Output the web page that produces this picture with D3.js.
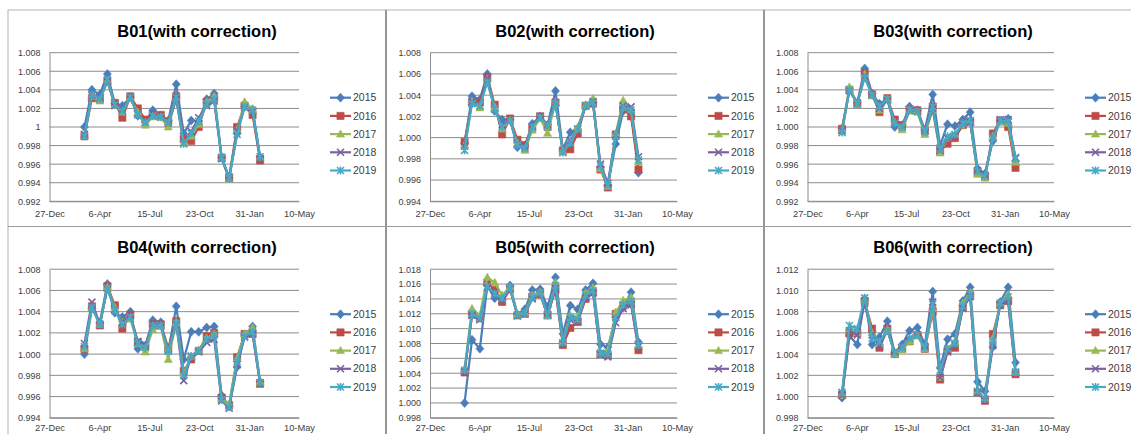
<!DOCTYPE html>
<html><head><meta charset="utf-8">
<script src="https://cdn.jsdelivr.net/npm/d3@7"></script>
<style>body{margin:0;background:#fff}svg{display:block}</style>
</head><body><svg id="c" width="1131" height="434"></svg>
<script>
// ---------- DATA ----------
const dates = ["2015-03-07","2015-03-22","2015-04-07","2015-04-22","2015-05-07","2015-05-22",
  "2015-06-07","2015-06-22","2015-07-07","2015-07-22","2015-08-07","2015-08-22",
  "2015-09-07","2015-09-22","2015-10-07","2015-10-22","2015-11-07","2015-11-22",
  "2015-12-07","2015-12-22","2016-01-07","2016-01-22","2016-02-07","2016-02-22"];
const years = ["2015","2016","2017","2018","2019"];
const xTickDates = ["2014-12-27","2015-04-06","2015-07-15","2015-10-23","2016-01-31","2016-05-10"];
const xTickLabels = ["27-Dec","6-Apr","15-Jul","23-Oct","31-Jan","10-May"];
const panelNames = ["B01","B02","B03","B04","B05","B06"];

const yTicksB01 = ["0.992","0.994","0.996","0.998","1","1.002","1.004","1.006","1.008"];
const yTicksB02 = ["0.994","0.996","0.998","1.000","1.002","1.004","1.006","1.008"];
const yTicksB03 = ["0.992","0.994","0.996","0.998","1.000","1.002","1.004","1.006","1.008"];
const yTicksB04 = ["0.994","0.996","0.998","1.000","1.002","1.004","1.006","1.008"];
const yTicksB05 = ["0.998","1.000","1.002","1.004","1.006","1.008","1.010","1.012","1.014","1.016","1.018"];
const yTicksB06 = ["0.998","1.000","1.002","1.004","1.006","1.008","1.010","1.012"];

// series order: 2015, 2016, 2017, 2018, 2019
const B01 = [
 [1.0000,1.0040,1.0035,1.0057,1.0025,1.0023,1.0032,1.0012,1.0006,1.0018,1.0012,1.0007,1.0046,0.9993,1.0007,1.0006,1.0030,1.0036,0.9967,0.9945,0.9993,1.0022,1.0019,0.9968],
 [0.9990,1.0031,1.0030,1.0049,1.0026,1.0010,1.0033,1.0020,1.0008,1.0013,1.0013,1.0006,1.0033,0.9987,0.9985,1.0000,1.0027,1.0030,0.9967,0.9946,1.0000,1.0023,1.0013,0.9964],
 [0.9991,1.0033,1.0028,1.0050,1.0023,1.0016,1.0031,1.0016,1.0002,1.0011,1.0010,1.0000,1.0031,0.9983,0.9990,1.0003,1.0027,1.0033,0.9966,0.9944,0.9997,1.0027,1.0019,0.9967],
 [0.9992,1.0034,1.0031,1.0050,1.0023,1.0018,1.0031,1.0014,1.0005,1.0012,1.0011,1.0004,1.0030,0.9982,0.9995,1.0010,1.0023,1.0028,0.9966,0.9945,0.9996,1.0021,1.0017,0.9966],
 [0.9990,1.0035,1.0030,1.0051,1.0024,1.0017,1.0032,1.0013,1.0005,1.0012,1.0011,1.0005,1.0032,0.9982,0.9993,1.0006,1.0025,1.0030,0.9967,0.9945,0.9992,1.0022,1.0018,0.9968]];
const B02 = [
 [0.9995,1.0039,1.0036,1.0060,1.0025,1.0017,1.0017,0.9991,0.9992,1.0013,1.0020,1.0012,1.0044,0.9989,1.0005,1.0008,1.0030,1.0033,0.9972,0.9955,0.9994,1.0025,1.0025,0.9967],
 [0.9996,1.0033,1.0033,1.0057,1.0031,1.0003,1.0018,0.9998,0.9993,1.0009,1.0020,1.0010,1.0033,0.9988,0.9989,1.0004,1.0030,1.0032,0.9970,0.9953,1.0003,1.0027,1.0020,0.9970],
 [0.9993,1.0034,1.0028,1.0055,1.0029,1.0008,1.0016,0.9995,0.9988,1.0007,1.0018,1.0004,1.0033,0.9987,0.9996,1.0010,1.0031,1.0037,0.9971,0.9954,1.0004,1.0035,1.0026,0.9977],
 [0.9992,1.0034,1.0030,1.0056,1.0027,1.0012,1.0016,0.9994,0.9991,1.0010,1.0020,1.0012,1.0033,0.9986,0.9997,1.0008,1.0030,1.0034,0.9975,0.9957,1.0002,1.0030,1.0029,0.9982],
 [0.9988,1.0032,1.0030,1.0052,1.0027,1.0010,1.0016,0.9993,0.9990,1.0010,1.0019,1.0011,1.0032,0.9986,0.9995,1.0008,1.0030,1.0033,0.9973,0.9955,1.0001,1.0028,1.0026,0.9979]];
const B03 = [
 [0.9998,1.0041,1.0026,1.0063,1.0036,1.0025,1.0030,1.0000,1.0002,1.0022,1.0018,0.9997,1.0035,0.9980,1.0003,1.0001,1.0008,1.0016,0.9955,0.9950,0.9985,1.0007,1.0009,0.9963],
 [0.9998,1.0040,1.0025,1.0058,1.0035,1.0016,1.0031,1.0008,1.0002,1.0019,1.0018,0.9996,1.0022,0.9974,0.9982,0.9988,1.0002,1.0006,0.9951,0.9946,0.9993,1.0007,1.0000,0.9956],
 [0.9997,1.0043,1.0025,1.0057,1.0034,1.0018,1.0030,1.0005,0.9997,1.0017,1.0016,0.9992,1.0018,0.9972,0.9988,0.9992,1.0002,1.0005,0.9949,0.9945,0.9990,1.0005,1.0004,0.9962],
 [0.9996,1.0039,1.0026,1.0055,1.0035,1.0020,1.0029,1.0005,1.0000,1.0018,1.0017,0.9995,1.0020,0.9975,0.9988,0.9990,1.0003,1.0005,0.9953,0.9948,0.9989,1.0008,1.0008,0.9967],
 [0.9994,1.0040,1.0025,1.0053,1.0034,1.0022,1.0030,1.0004,1.0000,1.0019,1.0017,0.9995,1.0022,0.9976,0.9990,0.9992,1.0004,1.0007,0.9952,0.9947,0.9988,1.0007,1.0006,0.9966]];
const B04 = [
 [1.0000,1.0043,1.0030,1.0066,1.0039,1.0035,1.0040,1.0005,1.0008,1.0032,1.0030,1.0002,1.0045,0.9995,1.0021,1.0021,1.0025,1.0026,0.9961,0.9951,0.9988,1.0018,1.0026,0.9974],
 [1.0005,1.0045,1.0027,1.0064,1.0046,1.0024,1.0037,1.0011,1.0007,1.0028,1.0028,1.0006,1.0031,0.9984,0.9995,1.0003,1.0017,1.0020,0.9959,0.9952,0.9997,1.0019,1.0019,0.9972],
 [1.0005,1.0044,1.0028,1.0063,1.0044,1.0030,1.0033,1.0010,1.0002,1.0023,1.0026,0.9995,1.0030,0.9982,0.9998,1.0004,1.0015,1.0019,0.9958,0.9953,0.9996,1.0019,1.0025,0.9974],
 [1.0010,1.0049,1.0028,1.0062,1.0042,1.0030,1.0036,1.0012,1.0009,1.0027,1.0027,1.0003,1.0028,0.9975,0.9998,1.0002,1.0011,1.0014,0.9956,0.9949,0.9990,1.0016,1.0019,0.9973],
 [1.0007,1.0044,1.0028,1.0062,1.0041,1.0028,1.0035,1.0010,1.0006,1.0027,1.0027,1.0003,1.0029,0.9980,0.9998,1.0003,1.0014,1.0018,0.9957,0.9950,0.9993,1.0017,1.0021,0.9973]];
const B05 = [
 [1.0000,1.0085,1.0073,1.0158,1.0141,1.0139,1.0158,1.0119,1.0126,1.0152,1.0153,1.0129,1.0169,1.0093,1.0131,1.0126,1.0152,1.0161,1.0079,1.0075,1.0115,1.0128,1.0149,1.0082],
 [1.0041,1.0119,1.0114,1.0162,1.0152,1.0136,1.0153,1.0118,1.0120,1.0143,1.0146,1.0118,1.0152,1.0078,1.0101,1.0109,1.0140,1.0149,1.0066,1.0064,1.0120,1.0131,1.0134,1.0071],
 [1.0046,1.0127,1.0118,1.0169,1.0162,1.0145,1.0156,1.0120,1.0121,1.0145,1.0149,1.0117,1.0162,1.0082,1.0118,1.0116,1.0148,1.0155,1.0068,1.0071,1.0122,1.0138,1.0142,1.0077],
 [1.0042,1.0118,1.0112,1.0155,1.0148,1.0138,1.0154,1.0117,1.0120,1.0140,1.0147,1.0119,1.0154,1.0080,1.0112,1.0110,1.0142,1.0148,1.0065,1.0062,1.0108,1.0127,1.0132,1.0076],
 [1.0044,1.0120,1.0114,1.0157,1.0147,1.0141,1.0155,1.0118,1.0121,1.0142,1.0148,1.0118,1.0158,1.0081,1.0115,1.0112,1.0145,1.0151,1.0067,1.0066,1.0115,1.0132,1.0137,1.0078]];
const B06 = [
 [0.9999,1.0057,1.0049,1.0092,1.0049,1.0056,1.0071,1.0041,1.0049,1.0062,1.0065,1.0049,1.0099,1.0027,1.0054,1.0059,1.0090,1.0103,1.0014,1.0005,1.0047,1.0089,1.0103,1.0032],
 [1.0002,1.0060,1.0060,1.0090,1.0064,1.0046,1.0064,1.0040,1.0045,1.0052,1.0058,1.0045,1.0080,1.0016,1.0043,1.0046,1.0084,1.0095,1.0004,0.9996,1.0059,1.0086,1.0090,1.0021],
 [1.0001,1.0063,1.0060,1.0091,1.0060,1.0050,1.0063,1.0040,1.0044,1.0052,1.0057,1.0045,1.0083,1.0018,1.0045,1.0052,1.0088,1.0098,1.0005,0.9998,1.0055,1.0088,1.0096,1.0023],
 [1.0001,1.0062,1.0058,1.0088,1.0058,1.0048,1.0062,1.0042,1.0046,1.0055,1.0058,1.0047,1.0089,1.0018,1.0042,1.0049,1.0083,1.0094,1.0004,0.9997,1.0048,1.0087,1.0090,1.0023],
 [1.0004,1.0067,1.0064,1.0093,1.0055,1.0052,1.0062,1.0041,1.0046,1.0055,1.0058,1.0046,1.0087,1.0025,1.0045,1.0050,1.0085,1.0096,1.0005,0.9998,1.0052,1.0088,1.0094,1.0023]];

// ---------- LAYOUT / STYLE ----------
const panelData = [B01,B02,B03,B04,B05,B06];
const panelTicks = [yTicksB01,yTicksB02,yTicksB03,yTicksB04,yTicksB05,yTicksB06];
const colors = ["#4A7EBB","#BE4B48","#98B954","#7D60A0","#46AAC5"];
const markers = ["diamond","square","triangle","x","star"];
const colX = [8,386,764], rowY = [10,226.5], panelW = 378, panelH = 216.5;
const plotL = [49.5,430,807.5], plotR = [299,677,1054];
const plotTop = 42.7, plotBot = 191.3;
const xPad = [9,6.5];
const font = "'Liberation Sans', Arial, sans-serif";

const parse = d3.utcParse("%Y-%m-%d");
const xDates = dates.map(parse);
const svg = d3.select("#c");
svg.append("rect").attr("width",1131).attr("height",434).attr("fill","#fff");

function markerPath(type){
  switch(type){
    case "diamond": return "M0,-4.5L4,0L0,4.5L-4,0Z";
    case "square": return "M-3.6,-3.6H3.6V3.6H-3.6Z";
    case "triangle": return "M0,-4.2L4,3L-4,3Z";
    case "x": return "M-3.5,-3.5L3.5,3.5M-3.5,3.5L3.5,-3.5";
    case "star": return "M-3.5,-3.5L3.5,3.5M-3.5,3.5L3.5,-3.5M0,-4L0,4";
  }
}
function drawMarker(g, type, color, x, y){
  const p = g.append("path").attr("d", markerPath(type)).attr("transform",`translate(${x},${y})`);
  if (type==="x"||type==="star") p.attr("fill","none").attr("stroke",color).attr("stroke-width",1.6);
  else p.attr("fill",color).attr("stroke",color).attr("stroke-width",0.6);
}

// panel borders
for (let r=0;r<2;r++) for (let c=0;c<3;c++){
  svg.append("rect").attr("x",colX[c]).attr("y",rowY[r]).attr("width",panelW).attr("height",panelH)
    .attr("fill","none").attr("stroke","#b4b4b4").attr("stroke-width",1);
}
svg.append("line").attr("x1",386).attr("x2",386).attr("y1",10).attr("y2",434).attr("stroke","#8a8a8a").attr("stroke-width",1.6);
svg.append("line").attr("x1",764).attr("x2",764).attr("y1",10).attr("y2",434).attr("stroke","#8a8a8a").attr("stroke-width",1.6);
svg.append("line").attr("x1",8).attr("x2",1131).attr("y1",226.5).attr("y2",226.5).attr("stroke","#9a9a9a").attr("stroke-width",1.2);

panelNames.forEach((name,pi)=>{
  const c = pi%3, r = Math.floor(pi/3);
  const px = colX[c], py = rowY[r];
  const ticks = panelTicks[pi];
  const tv = ticks.map(Number);
  const x = d3.scaleUtc().domain([parse(xTickDates[0]), parse(xTickDates[xTickDates.length-1])]).range([plotL[c], plotR[c]]);
  const y = d3.scaleLinear().domain([d3.min(tv), d3.max(tv)]).range([py+plotBot, py+plotTop]);
  const g = svg.append("g");

  // title
  g.append("text").attr("x",px+panelW/2).attr("y",py+26.5).attr("text-anchor","middle")
    .attr("font-family",font).attr("font-weight","bold").attr("font-size",16.5).attr("fill","#000")
    .text(name+"(with correction)");

  // gridlines
  g.selectAll(".grid").data(tv).enter().append("line")
    .attr("x1",plotL[c]).attr("x2",plotR[c]).attr("y1",d=>y(d)).attr("y2",d=>y(d))
    .attr("stroke","#8c8c8c").attr("stroke-width",1);
  // y axis
  const ya = d3.axisLeft(y).tickValues(tv).tickFormat((d,i)=>ticks[i]).tickSize(0).tickPadding(9);
  const yg = g.append("g").attr("transform",`translate(${plotL[c]},0)`).call(ya);
  yg.select(".domain").attr("stroke","#8c8c8c");
  yg.selectAll("text").attr("font-family",font).attr("font-size",9).attr("fill","#404040");
  // x axis
  const xa = d3.axisBottom(x).tickValues(xTickDates.map(parse)).tickFormat((d,i)=>xTickLabels[i]).tickSize(0).tickPadding(xPad[r]);
  const xg = g.append("g").attr("transform",`translate(0,${py+plotBot})`).call(xa);
  xg.select(".domain").attr("stroke","#8c8c8c");
  xg.selectAll("text").attr("font-family",font).attr("font-size",9.3).attr("fill","#404040");

  // series
  const line = d3.line().x((d,i)=>x(xDates[i])).y(d=>y(d));
  panelData[pi].forEach((vals,si)=>{
    const sg = g.append("g");
    sg.append("path").attr("d",line(vals)).attr("fill","none").attr("stroke",colors[si])
      .attr("stroke-width",2.2).attr("stroke-linejoin","round");
    vals.forEach((v,i)=>drawMarker(sg, markers[si], colors[si], x(xDates[i]), y(v)));
  });

  // legend
  const lx = plotR[c]+31;
  years.forEach((yr,si)=>{
    const ly = py + 87.7 + si*18.2;
    const lg = g.append("g");
    lg.append("line").attr("x1",lx).attr("x2",lx+21).attr("y1",ly).attr("y2",ly)
      .attr("stroke",colors[si]).attr("stroke-width",2.2);
    drawMarker(lg, markers[si], colors[si], lx+10.5, ly);
    lg.append("text").attr("x",lx+23).attr("y",ly+3.6).attr("font-family",font).attr("font-size",10.5)
      .attr("fill","#404040").text(yr);
  });
});
</script></body></html>
